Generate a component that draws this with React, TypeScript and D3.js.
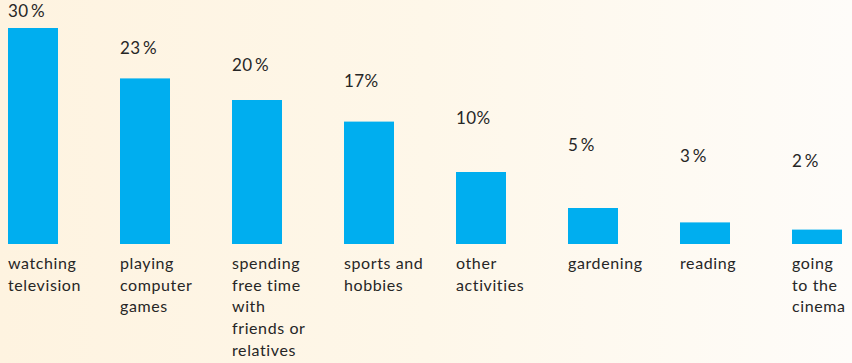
import React from "react";
import * as d3 from "d3";

const categories = [
  "watching television",
  "playing computer games",
  "spending free time with friends or relatives",
  "sports and hobbies",
  "other activities",
  "gardening",
  "reading",
  "going to the cinema",
];
const labelLines = [
  ["watching", "television"],
  ["playing", "computer", "games"],
  ["spending", "free time", "with", "friends or", "relatives"],
  ["sports and", "hobbies"],
  ["other", "activities"],
  ["gardening"],
  ["reading"],
  ["going", "to the", "cinema"],
];
const values = [30, 23, 20, 17, 10, 5, 3, 2];
const valueLabels = ["30\u2009%", "23\u2009%", "20\u2009%", "17%", "10%", "5\u2009%", "3\u2009%", "2\u2009%"];

const W = 852;
const H = 363;

export default function App() {
  const x = d3.scaleBand<string>().domain(categories).range([8, 842]).paddingInner(62 / 112).paddingOuter(0);
  const y = d3.scaleLinear().domain([0, 30]).range([244, 28]);
  const labelY = d3.scaleLinear().domain([0, 30]).range([177.7, 17]);
  const font = "Lato, 'Open Sans', sans-serif";
  return (
    <svg width={W} height={H} style={{ position: "absolute", left: 0, top: 0 }}>
      <defs>
        <linearGradient id="bg" x1="0" y1="0" x2="1" y2="0">
          <stop offset="0" stopColor="#FEF3E0" />
          <stop offset="0.5" stopColor="#FEF7E9" />
          <stop offset="1" stopColor="#FEFCF9" />
        </linearGradient>
      </defs>
      <rect x={0} y={0} width={W} height={H} fill="url(#bg)" />
      {categories.map((c, i) => (
        <g key={c}>
          <rect x={x(c)} y={y(values[i])} width={x.bandwidth()} height={y(0) - y(values[i])} fill="#00AEEF" />
          <text x={x(c)} y={labelY(values[i])} fontFamily={font} fontSize={17} letterSpacing={0.4} fill="#262626">
            {valueLabels[i]}
          </text>
          <text fontFamily={font} fontSize={16} letterSpacing={0.6} fill="#262626">
            {labelLines[i].map((l, j) => (
              <tspan key={j} x={x(c)} y={269 + j * 21.7}>
                {l}
              </tspan>
            ))}
          </text>
        </g>
      ))}
    </svg>
  );
}
